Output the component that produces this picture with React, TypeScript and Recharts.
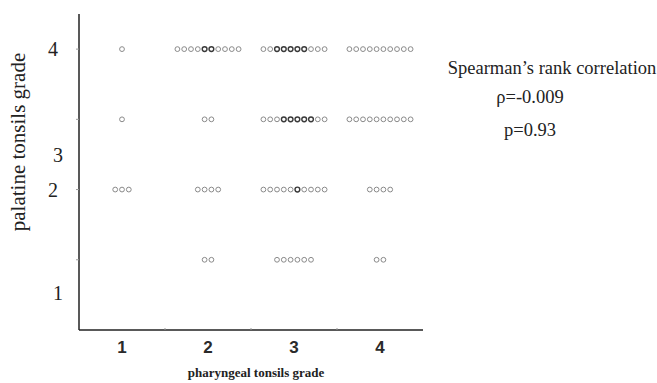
import { ScatterChart, Scatter, XAxis, YAxis } from 'recharts'

// pharyngeal tonsils grade (x categories)
const xCategories = [1, 2, 3, 4]
// palatine tonsils grade rows, top to bottom
const yRows = [4, 3, 2, 1]
// number of patients per cell, one array per row (x = 1..4)
const row4Counts = [1, 10, 10, 10]
const row3Counts = [1, 2, 10, 10]
const row2Counts = [3, 4, 10, 4]
const row1Counts = [0, 2, 6, 2]
// circles that look darker (overlapping patients), by index in the cell
const row4Dark = [[], [4, 5], [2, 3, 4, 5, 6], []]
const row3Dark = [[], [], [3, 4, 5, 6, 7], []]
const row2Dark = [[], [], [5], []]
const row1Dark = [[], [], [], []]

// tick labels as printed on the original figure
const yTickValues = [0.53, 1, 2, 2.49, 3, 4]
const yTickLabels: { [k: string]: string } = { '4': '4', '2.49': '3', '2': '2', '0.53': '1' }
const yTickMarks = [1, 2, 3, 4]
const xTickValues = [1, 1.5, 2, 2.5, 3, 3.5, 4]

const annotation = ['Spearman\u2019s rank correlation', '\u03c1=-0.009', 'p=0.93']

interface Cell {
  x: number
  y: number
  n: number
  dark: number[]
}

const countRows = [row4Counts, row3Counts, row2Counts, row1Counts]
const darkRows = [row4Dark, row3Dark, row2Dark, row1Dark]

const cells: Cell[] = []
yRows.forEach((row, r) => {
  xCategories.forEach((cat, c) => {
    if (countRows[r][c] > 0) cells.push({ x: cat, y: row, n: countRows[r][c], dark: darkRows[r][c] })
  })
})

const SERIF = '"Liberation Serif", "DejaVu Serif", serif'
const SANS = '"Liberation Sans", Arial, sans-serif'

const DotRow = (props: any) => {
  const { cx, cy, payload } = props
  const step = 6.8
  const start = cx - ((payload.n - 1) * step) / 2
  const circles = []
  for (let i = 0; i < payload.n; i++) {
    const dark = payload.dark.includes(i)
    circles.push(
      <circle
        key={i}
        cx={start + i * step}
        cy={cy}
        r={2.4}
        fill="none"
        stroke={dark ? '#3a3a3a' : '#8a8a8a'}
        strokeWidth={dark ? 1.4 : 1}
      />
    )
  }
  return <g>{circles}</g>
}

const YTick = (props: any) => {
  const { x, y, payload } = props
  const v = payload.value
  const label = yTickLabels[String(v)]
  const shift = label === '3' || label === '1' ? 5 : 0
  return (
    <g>
      {yTickMarks.includes(v) && <line x1={x - 3} y1={y} x2={x} y2={y} stroke="#999" strokeWidth={1} />}
      {label && (
        <text x={x - 21 + shift} y={y} textAnchor="end" dominantBaseline="central" fontFamily={SERIF} fontSize={20} fill="#222">
          {label}
        </text>
      )}
    </g>
  )
}

const XTick = (props: any) => {
  const { x, y, payload } = props
  const v = payload.value
  if (!Number.isInteger(v)) {
    return <line x1={x} y1={y} x2={x} y2={y - 2} stroke="#999" strokeWidth={1} />
  }
  return (
    <text x={x} y={y + 17} textAnchor="middle" dominantBaseline="central" fontFamily={SANS} fontSize={17} fontWeight="bold" fill="#2a2a2a">
      {v}
    </text>
  )
}

export default function App() {
  return (
    <div style={{ position: 'absolute', left: 0, top: 0, width: 657, height: 383, background: '#fff' }}>
      <ScatterChart width={657} height={383} margin={{ top: 14, right: 234, bottom: 0, left: 0 }}>
        <XAxis
          type="number"
          dataKey="x"
          domain={[0.5, 4.5]}
          ticks={xTickValues}
          interval={0}
          tick={<XTick />}
          tickLine={false}
          tickSize={0}
          tickMargin={0}
          height={53}
          axisLine={{ stroke: '#222', strokeWidth: 1.5 }}
        />
        <YAxis
          type="number"
          dataKey="y"
          domain={[0, 4.5]}
          ticks={yTickValues}
          interval={0}
          tick={<YTick />}
          tickLine={false}
          tickSize={0}
          tickMargin={0}
          width={79}
          axisLine={{ stroke: '#222', strokeWidth: 1.5 }}
        />
        <Scatter data={cells} shape={<DotRow />} isAnimationActive={false} />
        <text
          x={18}
          y={142}
          transform="rotate(-90 18 142)"
          textAnchor="middle"
          dominantBaseline="central"
          fontFamily={SERIF}
          fontSize={21}
          fill="#222"
        >
          palatine tonsils grade
        </text>
        <text x={256} y={372} textAnchor="middle" dominantBaseline="central" fontFamily={SERIF} fontSize={13} fontWeight="bold" fill="#222">
          pharyngeal tonsils grade
        </text>
        <text x={552} y={68} textAnchor="middle" dominantBaseline="central" fontFamily={SERIF} fontSize={18.5} fill="#222">
          {annotation[0]}
        </text>
        <text x={530} y={97} textAnchor="middle" dominantBaseline="central" fontFamily={SERIF} fontSize={18.5} fill="#222">
          {annotation[1]}
        </text>
        <text x={530} y={130} textAnchor="middle" dominantBaseline="central" fontFamily={SERIF} fontSize={18.5} fill="#222">
          {annotation[2]}
        </text>
      </ScatterChart>
    </div>
  )
}
